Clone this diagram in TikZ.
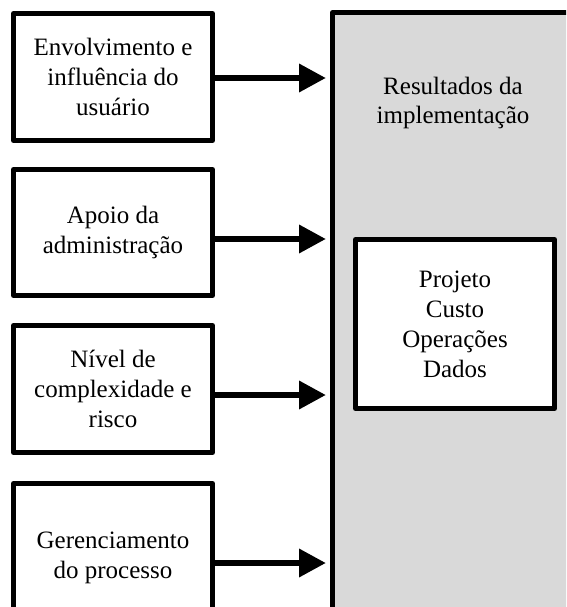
\documentclass[tikz,border=0pt]{standalone}
\usepackage{fontspec}
\setmainfont{Liberation Serif}
\usetikzlibrary{arrows.meta}
\definecolor{panelgray}{HTML}{D9D9D9}
\tikzset{
  inbox/.style={draw=black, line width=5pt, fill=white, align=center,
    minimum width=199pt, inner sep=0pt, outer sep=0pt,
    font=\fontsize{25}{30}\selectfont, line join=round},
  bigarrow/.style={line width=6.5pt, -{Triangle[length=27pt,width=27pt]}},
  lbl/.style={align=center, font=\fontsize{25}{29}\selectfont, inner sep=0pt}
}
\begin{document}
\begin{tikzpicture}[x=1pt,y=-1pt]
\useasboundingbox (0,0) rectangle (566,607);
\clip (0,0) rectangle (566,607);
% right panel
\node[draw=black, line width=5pt, fill=panelgray, inner sep=0pt, outer sep=0pt,
  minimum width=288pt, minimum height=648pt, anchor=north west, line join=round]
  (res) at (332.5,12.5) {};
\node[lbl] (restxt) at (453,103) {Resultados da\\implementação};
\node[inbox, minimum width=199pt, minimum height=169pt] (inner) at (455,324)
  {Projeto\\Custo\\Operações\\Dados};
% left boxes
\node[inbox, minimum height=127pt] (b1) at (113,77) {Envolvimento e\\influência do\\usuário};
\node[inbox, minimum height=126pt] (b2) at (113,232.5) {Apoio da\\administração};
\node[inbox, minimum height=127pt] (b3) at (113,389) {Nível de\\complexidade e\\risco};
\node[inbox, minimum height=148pt] (b4) at (113,557.5) {Gerenciamento\\do processo};
% arrow targets
\coordinate (t1) at (326,78);
\coordinate (t2) at (326,239);
\coordinate (t3) at (326,395);
\coordinate (t4) at (326,563);
\draw[bigarrow] (b1.east |- t1) -- (t1);
\draw[bigarrow] (b2.east |- t2) -- (t2);
\draw[bigarrow] (b3.east |- t3) -- (t3);
\draw[bigarrow] (b4.east |- t4) -- (t4);
\end{tikzpicture}
\end{document}
